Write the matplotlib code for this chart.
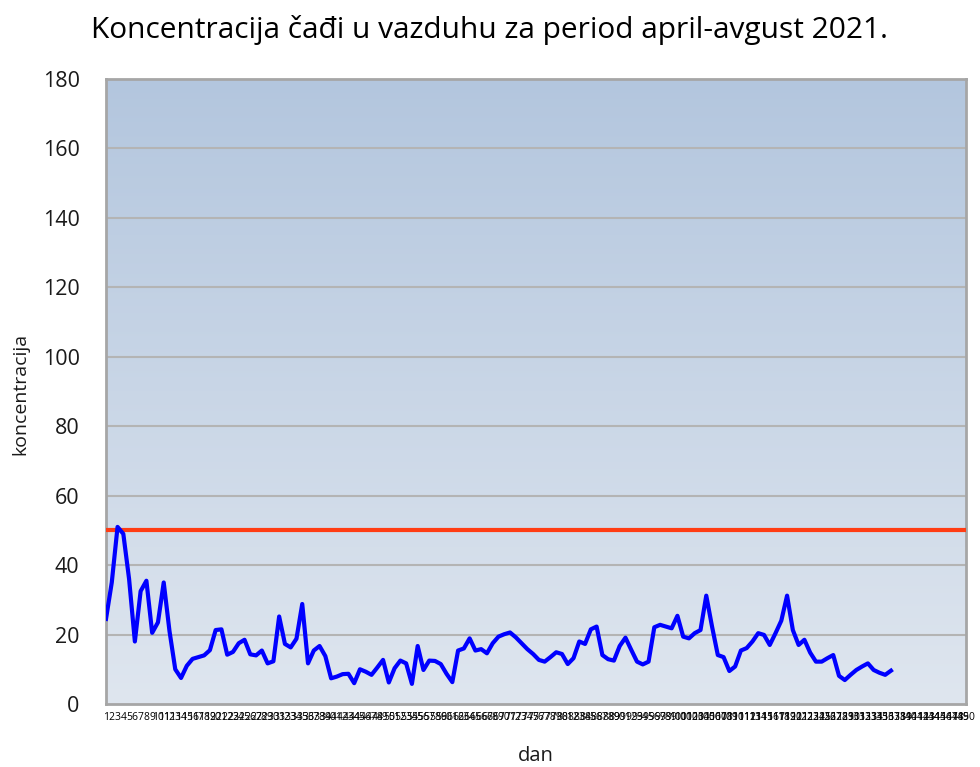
import numpy as np
import matplotlib
matplotlib.use("Agg")
import matplotlib.pyplot as plt
from matplotlib.colors import LinearSegmentedColormap

plt.rcParams['font.family'] = ['Open Sans', 'DejaVu Sans']

# Data
days = list(range(1, 151))  # category labels 1..150
koncentracija = [
    24.5, 35, 51, 49, 36, 18, 32.5, 35.5, 20.5, 23.5,
    35, 21, 10, 7.5, 11, 13, 13.5, 14, 15.5, 21.3,
    21.5, 14.2, 15, 17.5, 18.5, 14.3, 14, 15.4, 11.7, 12.3,
    25.2, 17.3, 16.3, 18.8, 28.8, 11.7, 15.4, 16.7, 13.8, 7.4,
    7.9, 8.6, 8.7, 6, 10, 9.3, 8.4, 10.5, 12.7, 6.2,
    10.3, 12.5, 11.7, 5.8, 16.7, 9.8, 12.5, 12.4, 11.5, 8.7,
    6.3, 15.4, 16, 18.9, 15.4, 15.8, 14.6, 17.5, 19.4, 20.1,
    20.6, 19.2, 17.5, 15.8, 14.4, 12.7, 12.2, 13.5, 14.9, 14.4,
    11.5, 13.2, 18, 17.3, 21.5, 22.3, 14.1, 12.9, 12.5, 16.7,
    19.1, 15.6, 12.2, 11.4, 12.2, 22.1, 22.8, 22.3, 21.8, 25.4,
    19.4, 18.9, 20.4, 21.3, 31.2, 22.3, 14.1, 13.5, 9.5, 10.8,
    15.4, 16.1, 18, 20.4, 19.9, 17, 20.4, 24, 31.2, 21.3,
    17, 18.5, 14.8, 12.2, 12.2, 13.2, 14.1, 8.1, 6.9, 8.4,
    9.8, 10.8, 11.7, 9.8, 9, 8.4, 9.6,
]
granica = [50] * len(days)
yticks = [0, 20, 40, 60, 80, 100, 120, 140, 160, 180]

title = "Koncentracija čađi u vazduhu za period april-avgust 2021."
xlabel = "dan"
ylabel = "koncentracija"

fig = plt.figure(figsize=(9.8, 7.67), dpi=100)
ax = fig.add_axes([106/980, 1 - 704/767, (966 - 106)/980, (704 - 79)/767])

x_vals = days[:len(koncentracija)]
ax.set_xlim(days[0], days[-1])
ax.set_ylim(yticks[0], yticks[-1])

# gradient background
cmap = LinearSegmentedColormap.from_list("bg", ["#dfe6ef", "#b3c6de"])
grad = np.linspace(0, 1, 256).reshape(-1, 1)
ax.imshow(grad, extent=[days[0], days[-1], yticks[0], yticks[-1]], origin="lower",
          aspect="auto", cmap=cmap, zorder=0)

for y in yticks[1:-1]:
    ax.axhline(y, color="#b4b4b4", lw=1.5, zorder=1)

ax.plot(days, granica, color="#ff3c14", lw=3, zorder=3, solid_capstyle="butt")
ax.plot(x_vals, koncentracija, color="#0000ff", lw=3, zorder=4, solid_joinstyle="round")

ax.set_yticks(yticks)
ax.set_yticklabels([str(v) for v in yticks], fontsize=15.5, color="#1a1a1a")
ax.set_xticks(days)
ax.set_xticklabels([str(d) for d in days], fontsize=7.5, color="#000000")
ax.tick_params(axis="both", length=0)
ax.tick_params(axis="y", pad=19)
ax.tick_params(axis="x", pad=6)

for s in ax.spines.values():
    s.set_color("#a6a6a6")
    s.set_linewidth(2)

fig.text(489/980, 1 - 30/767, title, ha="center", va="center", fontsize=21.5, color="#000000")
fig.text(536/980, 1 - 756/767, xlabel, ha="center", va="center", fontsize=14.5, color="#1a1a1a")
fig.text(20/980, 1 - 394/767, ylabel, ha="center", va="center", fontsize=14,
         rotation=90, color="#1a1a1a")

fig.savefig("out.png", dpi=100)
